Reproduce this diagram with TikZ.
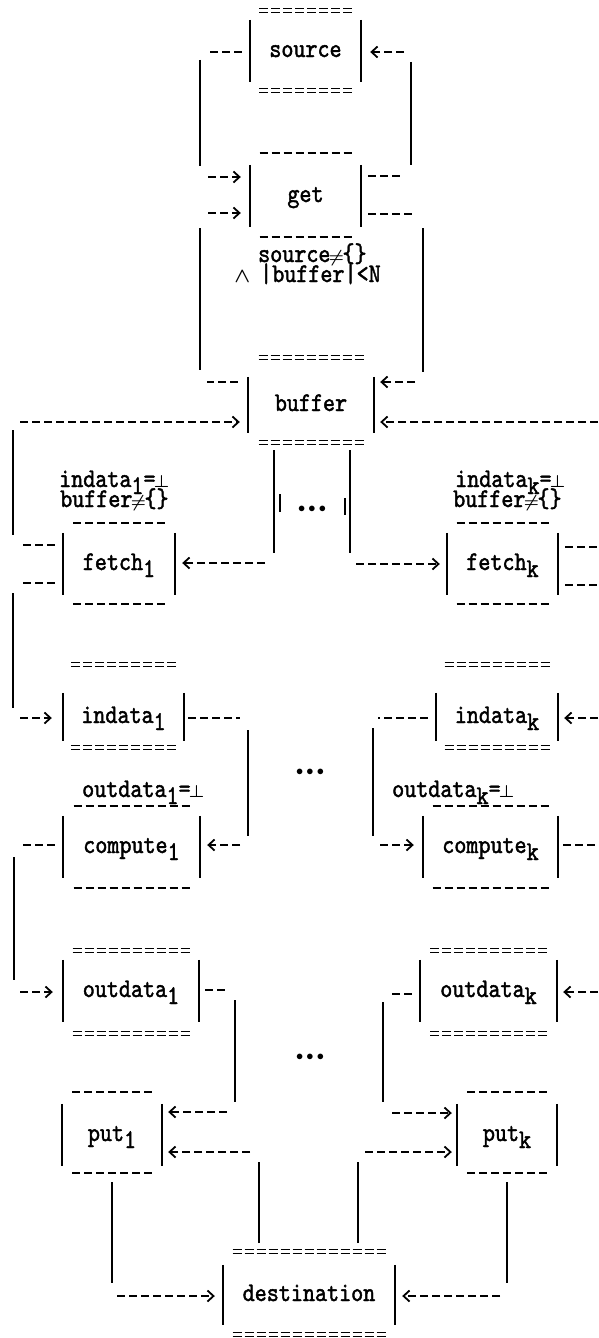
\documentclass[tikz,border=0pt]{standalone}
\usepackage{fontspec}
\usetikzlibrary{arrows.meta}
\newfontfamily\tw{lmmono10-regular.otf}[FakeBold=1.6,FakeStretch=0.85]
\newcommand\lbl{\fontsize{27}{30}\selectfont\tw}
\newcommand\cell[1]{\makebox[12pt]{#1}}
\newcommand\sub[1]{\smash{\raisebox{-7pt}{#1}}}
\newcommand\myneq{{\fontsize{18}{18}\selectfont\boldmath$\neq$}}
\newcommand\myperp{{\fontsize{17}{17}\selectfont\boldmath$\perp$}}
\newcommand\mywedge{{\fontsize{21}{21}\selectfont\boldmath$\wedge$}}
\newdimen\mydima \newdimen\mydimb
% dashed line fitted to a whole number of dashes: style, node, north|south, yshift, gap
\newcommand\fitdash[5]{%
  \pgfextractx{\mydima}{\pgfpointanchor{#2}{west}}%
  \pgfextractx{\mydimb}{\pgfpointanchor{#2}{east}}%
  \pgfmathsetmacro\myw{\mydimb-\mydima}%
  \pgfmathsetmacro\myn{int((\myw-14+#5)/12)}%
  \pgfmathsetmacro\mylen{12*\myn-#5}%
  \pgfmathsetmacro\mys{(\myw-\mylen)/2}%
  \draw[#1] ([xshift=\mys pt,yshift=#4pt]#2.#3 west) -- ++(\mylen,0);
}
% place decoration: name, top gap, bottom gap
\newcommand\pdeco[3]{%
  \draw[bar] (#1.north west) -- (#1.south west);
  \draw[bar] (#1.north east) -- (#1.south east);
  \fitdash{dl}{#1}{north}{#2+2}{3}
  \fitdash{dl}{#1}{north}{#2-2}{3}
  \fitdash{dl}{#1}{south}{-#3+2}{3}
  \fitdash{dl}{#1}{south}{-#3-2}{3}
}
% transition decoration: name, top gap, bottom gap
\newcommand\tdeco[3]{%
  \draw[bar] (#1.north west) -- (#1.south west);
  \draw[bar] (#1.north east) -- (#1.south east);
  \fitdash{td}{#1}{north}{#2}{4}
  \fitdash{td}{#1}{south}{-#3}{4}
}
\begin{document}
\begin{tikzpicture}[x=1pt,y=-1pt,
  bar/.style={line width=1.8pt},
  vl/.style={line width=1.8pt},
  hd/.style={line width=1.8pt, dash pattern=on 8pt off 4pt},
  tip/.style={-{Straight Barb[length=6pt,width=11pt]}},
  dl/.style={line width=1.3pt, dash pattern=on 9pt off 3pt},
  td/.style={line width=1.8pt, dash pattern=on 8pt off 4pt},
  pbox/.style={inner sep=0pt, text height=12pt, text depth=0pt, font=\lbl},
  guard/.style={inner sep=0pt, anchor=base west, font=\lbl},
  dots/.style={inner sep=0pt, font=\fontsize{14}{14}\selectfont}
]
\fill[white] (0,0) rectangle (598,1338);
\useasboundingbox (0,0) rectangle (598,1338);

% ---------- nodes ----------
\node[pbox, minimum width=111pt, minimum height=62pt] (source) at (305.5,51) {source};
\node[pbox, minimum width=111pt, minimum height=62pt] (get) at (305.5,196) {get};
\node[pbox, minimum width=126pt, minimum height=56pt] (buffer) at (311,405) {buffer};
\node[pbox, minimum width=112pt, minimum height=62pt] (fetchA) at (119,564) {fetch\sub{1}};
\node[pbox, minimum width=111pt, minimum height=62pt] (fetchK) at (502.5,564) {fetch\sub{k}};
\node[pbox, minimum width=121pt, minimum height=48pt] (indataA) at (123.5,717) {indata\sub{1}};
\node[pbox, minimum width=122pt, minimum height=48pt] (indataK) at (497,717) {indata\sub{k}};
\node[pbox, minimum width=137pt, minimum height=62pt] (computeA) at (131.5,847) {compute\sub{1}};
\node[pbox, minimum width=135pt, minimum height=62pt] (computeK) at (490.5,847) {compute\sub{k}};
\node[pbox, minimum width=136pt, minimum height=62pt] (outdataA) at (131,991) {outdata\sub{1}};
\node[pbox, minimum width=137pt, minimum height=62pt] (outdataK) at (488.5,991) {outdata\sub{k}};
\node[pbox, minimum width=100pt, minimum height=62pt] (putA) at (112,1135) {put\sub{1}};
\node[pbox, minimum width=100pt, minimum height=62pt] (putK) at (507,1135) {put\sub{k}};
\node[pbox, minimum width=172pt, minimum height=60pt] (dest) at (309,1295) {destination};

\pdeco{source}{9}{8}
\tdeco{get}{12}{10}
\pdeco{buffer}{19}{9}
\tdeco{fetchA}{10}{9}
\tdeco{fetchK}{10}{9}
\pdeco{indataA}{28}{6}
\pdeco{indataK}{28}{6}
\tdeco{computeA}{10}{10}
\tdeco{computeK}{10}{10}
\pdeco{outdataA}{9}{11}
\pdeco{outdataK}{9}{11}
\tdeco{putA}{12}{7}
\tdeco{putK}{12}{7}
\pdeco{dest}{13}{9}

% ---------- guards ----------
\node[guard] (gs1) at (258,262) {source\cell{\myneq}\{\}};
\node[guard] (gs2) at (236,282) {\cell{\mywedge}\hspace*{12pt}|buffer|<N};
\node[guard] (gfa1) at (59,487) {indata\sub{1}=\cell{\myperp}};
\node[guard] (gfa2) at (60,507) {buffer\cell{\myneq}\{\}};
\node[guard] (gfk1) at (455,487) {indata\sub{k}=\cell{\myperp}};
\node[guard] (gfk2) at (453,507) {buffer\cell{\myneq}\{\}};
\node[guard] (goa) at (82,797) {outdata\sub{1}=\cell{\myperp}};
\node[guard] (gok) at (392,797) {outdata\sub{k}=\cell{\myperp}};

% ---------- dots ----------
\node[dots] (d1) at (312,509) {$\bullet\bullet\bullet$};
\node[dots] (d2) at (310,772) {$\bullet\bullet\bullet$};
\node[dots] (d3) at (310,1057) {$\bullet\bullet\bullet$};

% ---------- connectors ----------
% source -> get (upper left)
\draw[hd,shorten <=8pt] (source.west |- 0,52) -- (208,52);
\draw[vl] (200,60) -- (200,166);
\draw[hd,tip,shorten >=9pt] (208,177) -- (get.west |- 0,177);
% get -> source (right)
\draw[hd,shorten <=7pt] (get.east |- 0,176) -- (404,176);
\draw[vl] (411,62) -- (411,165);
\draw[hd,tip,shorten >=9pt] (404,52) -- (source.east |- 0,52);
% buffer -> get (lower left)
\draw[hd,shorten <=10pt] (buffer.west |- 0,382) -- (207,382);
\draw[vl] (200,228) -- (200,370);
\draw[hd,tip,shorten >=9pt] (208,213) -- (get.west |- 0,213);
% get -> buffer (lower right)
\draw[hd,shorten <=7pt] (get.east |- 0,214) -- (415,214);
\draw[vl] (423,228) -- (423,372);
\draw[hd,tip,shorten >=6pt] (415,382) -- (buffer.east |- 0,382);
% fetch1 -> buffer
\draw[hd,shorten <=8pt] (fetchA.west |- 0,545) -- (20,545);
\draw[vl] (13,430) -- (13,535);
\draw[hd,tip,shorten >=8pt] (20,422) -- (buffer.west |- 0,422);
% fetchk -> buffer
\draw[hd,shorten <=7pt] (fetchK.east |- 0,547) -- (598,547);
\draw[hd,tip,shorten >=6pt] (598,422) -- (buffer.east |- 0,422);
% buffer -> fetch1
\draw[vl] (274,450) -- (274,553);
\draw[vl] (280,494) -- (280,512);
\draw[hd,tip,shorten >=7pt] (265,563) -- (fetchA.east |- 0,563);
% buffer -> fetchk
\draw[vl] (350,450) -- (350,553);
\draw[vl] (345,498) -- (345,515);
\draw[hd,tip,shorten >=7pt] (356,564) -- (fetchK.west |- 0,564);
% fetch1 -> indata1
\draw[hd,shorten <=8pt] (fetchA.west |- 0,583) -- (20,583);
\draw[vl] (13,593) -- (13,708);
\draw[hd,tip,shorten >=11pt] (20,718) -- (indataA.west |- 0,718);
% fetchk -> indatak
\draw[hd,shorten <=7pt] (fetchK.east |- 0,585) -- (598,585);
\draw[hd,tip,shorten >=6pt] (598,718) -- (indataK.east |- 0,718);
% indata1 -> compute1
\draw[hd,shorten <=4pt] (indataA.east |- 0,718) -- (240,718);
\draw[vl] (248,730) -- (248,836);
\draw[hd,tip,shorten >=7pt] (240,845) -- (computeA.east |- 0,845);
% indatak -> computek
\draw[hd,shorten <=8pt] (indataK.west |- 0,718) -- (378,718);
\draw[vl] (373,728) -- (373,836);
\draw[hd,tip,shorten >=9pt] (380,845) -- (computeK.west |- 0,845);
% compute1 -> outdata1
\draw[hd,shorten <=8pt] (computeA.west |- 0,845) -- (21,845);
\draw[vl] (14,857) -- (14,980);
\draw[hd,tip,shorten >=10pt] (20,992) -- (outdataA.west |- 0,992);
% computek -> outdatak
\draw[hd,shorten <=5pt] (computeK.east |- 0,845) -- (598,845);
\draw[hd,tip,shorten >=6pt] (598,992) -- (outdataK.east |- 0,992);
% outdata1 -> put1
\draw[hd,shorten <=6pt] (outdataA.east |- 0,990) -- (227,990);
\draw[vl] (235,1000) -- (235,1102);
\draw[hd,tip,shorten >=6pt] (227,1112) -- (putA.east |- 0,1112);
% outdatak -> putk
\draw[hd,shorten <=8pt] (outdataK.west |- 0,994) -- (392,994);
\draw[vl] (383,1002) -- (383,1102);
\draw[hd,tip,shorten >=5pt] (392,1113) -- (putK.west |- 0,1113);
% destination -> put1
\draw[vl] (259,1243) -- (259,1162);
\draw[hd,tip,shorten >=6pt] (250,1152) -- (putA.east |- 0,1152);
% destination -> putk
\draw[vl] (358,1243) -- (358,1162);
\draw[hd,tip,shorten >=5pt] (365,1152) -- (putK.west |- 0,1152);
% put1 -> destination
\draw[vl] (112,1182) -- (112,1283);
\draw[hd,tip,shorten >=8pt] (117,1296) -- (dest.west |- 0,1296);
% putk -> destination
\draw[vl] (507,1182) -- (507,1283);
\draw[hd,tip,shorten >=7pt] (500,1296) -- (dest.east |- 0,1296);
\end{tikzpicture}
\end{document}
